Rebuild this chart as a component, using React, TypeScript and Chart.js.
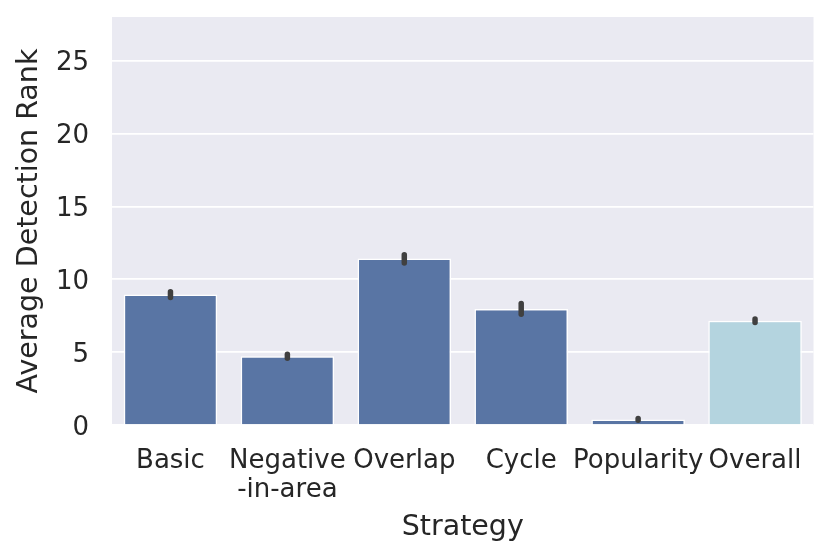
import React, { useEffect, useRef } from 'react';
import { Chart, registerables } from 'chart.js';

Chart.register(...registerables);

const categories: (string | string[])[] = ['Basic', ['Negative', '-in-area'], 'Overlap', 'Cycle', 'Popularity', 'Overall'];
const meanRank = [8.95, 4.72, 11.42, 7.96, 0.38, 7.16];
const ciLow = [8.75, 4.58, 11.12, 7.6, 0.32, 7.04];
const ciHigh = [9.15, 4.86, 11.68, 8.33, 0.45, 7.28];
const barColors = ['#5975A4', '#5975A4', '#5975A4', '#5975A4', '#5975A4', '#B4D4DF'];
const yTickValues = [0, 5, 10, 15, 20, 25];
const yMax = 28;
const xTitle = 'Strategy';
const yTitle = 'Average Detection Rank';

const FONT = "'DejaVu Sans', 'Liberation Sans', sans-serif";
const TEXT = '#262626';

const bgPlugin = {
  id: 'bgPlugin',
  beforeDraw(chart: any) {
    const { ctx, chartArea } = chart;
    ctx.save();
    ctx.fillStyle = '#EAEAF2';
    ctx.fillRect(chartArea.left, chartArea.top, chartArea.right - chartArea.left, chartArea.bottom - chartArea.top);
    ctx.restore();
  },
};

const errPlugin = {
  id: 'errPlugin',
  afterDatasetsDraw(chart: any) {
    const { ctx } = chart;
    const xs = chart.scales.x;
    const ys = chart.scales.y;
    ctx.save();
    ctx.strokeStyle = '#404040';
    ctx.lineWidth = 5.5;
    ctx.lineCap = 'round';
    for (let i = 0; i < meanRank.length; i++) {
      const x = xs.getPixelForValue(i);
      ctx.beginPath();
      ctx.moveTo(x, ys.getPixelForValue(ciLow[i]));
      ctx.lineTo(x, ys.getPixelForValue(ciHigh[i]));
      ctx.stroke();
    }
    ctx.restore();
  },
};

export default function App() {
  const ref = useRef<HTMLCanvasElement | null>(null);

  useEffect(() => {
    if (!ref.current) return;
    const chart = new Chart(ref.current, {
      type: 'bar',
      data: {
        labels: categories as any,
        datasets: [
          {
            data: meanRank,
            backgroundColor: barColors,
            borderColor: '#FFFFFF',
            borderWidth: 1.5,
            barPercentage: 0.8,
            categoryPercentage: 1.0,
          },
        ],
      },
      options: {
        animation: false,
        responsive: false,
        devicePixelRatio: 1,
        layout: { padding: { top: 17, right: 17.5, left: 0, bottom: 0 } },
        plugins: {
          legend: { display: false },
          tooltip: { enabled: false },
        },
        scales: {
          x: {
            grid: { display: false, drawTicks: false },
            border: { display: false },
            ticks: {
              color: TEXT,
              font: { family: FONT, size: 26, lineHeight: 1.115 },
              padding: 22,
              autoSkip: false,
              maxRotation: 0,
              minRotation: 0,
            },
            title: {
              display: true,
              text: xTitle,
              color: TEXT,
              font: { family: FONT, size: 28.5 },
              padding: { top: 0, bottom: 13 },
            },
            afterFit(scale: any) {
              scale.height = 133;
              scale.paddingLeft = 0;
              scale.paddingRight = 0;
            },
          },
          y: {
            min: 0,
            max: yMax,
            grid: { color: '#FFFFFF', lineWidth: 1.7, drawTicks: false },
            border: { display: false },
            ticks: {
              stepSize: 5,
              color: TEXT,
              font: { family: FONT, size: 26 },
              padding: 23,
              labelOffset: 3,
            },
            afterBuildTicks(scale: any) {
              scale.ticks = yTickValues.map((v) => ({ value: v }));
            },
            title: {
              display: true,
              text: yTitle,
              color: TEXT,
              font: { family: FONT, size: 28.5 },
              padding: { top: 12, bottom: 0 },
            },
            afterFit(scale: any) {
              scale.width = 112;
              scale.paddingTop = 0;
              scale.paddingBottom = 0;
            },
          },
        },
      },
      plugins: [bgPlugin, errPlugin],
    });
    return () => chart.destroy();
  }, []);

  return (
    <div style={{ position: 'fixed', left: 0, top: 0, width: 831, height: 558, background: '#FFFFFF' }}>
      <canvas ref={ref} width={831} height={558} style={{ width: 831, height: 558, display: 'block' }} />
    </div>
  );
}
